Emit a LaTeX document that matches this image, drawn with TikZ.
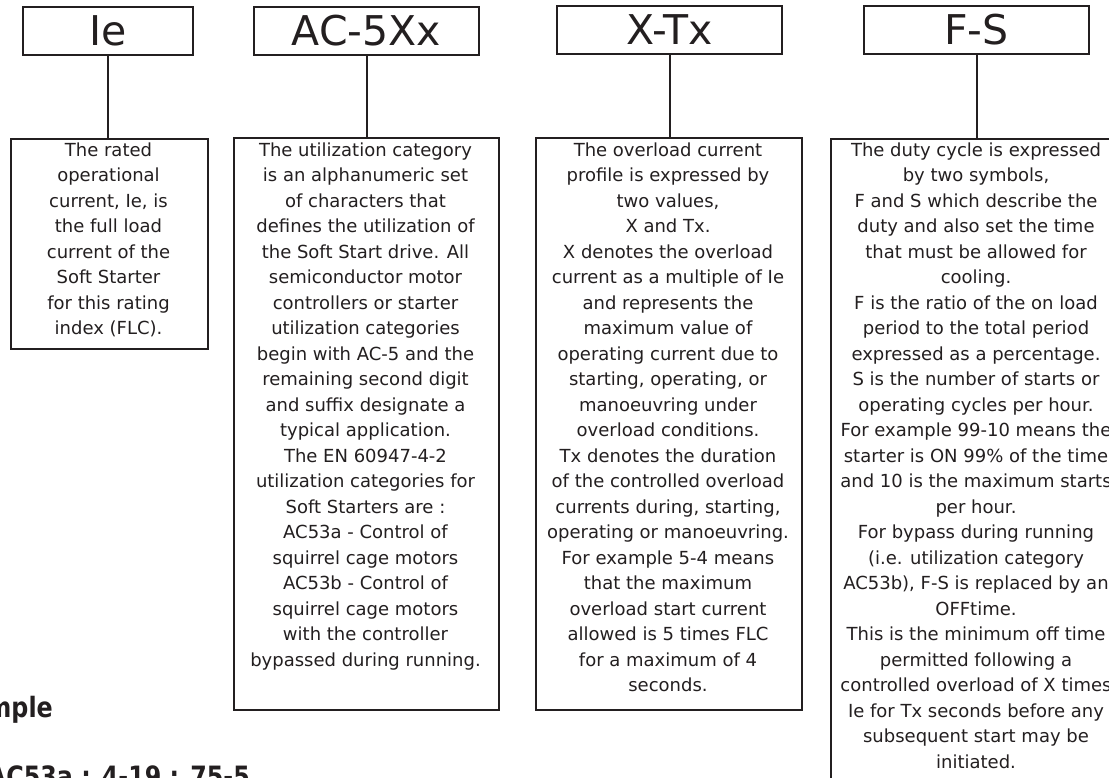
\documentclass[tikz,border=0pt]{standalone}
\usepackage{fontspec}
\usepackage{graphicx}
\setmainfont{DejaVu Sans}
\definecolor{ink}{RGB}{35,31,32}
\begin{document}
\begin{tikzpicture}[x=1pt,y=-1pt,
  titlebox/.style={draw=ink, line width=2.2pt, minimum width=225pt, minimum height=48pt, inner sep=0pt,
    text=ink, font=\fontsize{41}{41}\selectfont},
  descbox/.style={draw=ink, line width=2.2pt, inner sep=0pt, anchor=north west},
  bodytext/.style={font=\fontsize{18}{25.5}\selectfont, text=ink, align=center, inner sep=0pt, anchor=north},
  boldtext/.style={font=\fontsize{28}{28}\selectfont\bfseries, text=ink, inner sep=0pt, anchor=base east},
  link/.style={draw=ink, line width=2pt}]
\useasboundingbox (0,0) rectangle (1109,778);
\clip (0,0) rectangle (1109,778);
\fill[white] (0,0) rectangle (1109,778);

% title boxes
\node[titlebox, minimum width=170pt] (ieT) at (108,31) {Ie};
\node[titlebox] (acT) at (366.5,31) {AC-5Xx};
\node[titlebox] (xtT) at (669.5,30) {X-Tx};
\node[titlebox] (fsT) at (976.5,30) {F-S};

% description boxes
\node[descbox, minimum width=197pt, minimum height=210pt] (ieD) at (10,138) {};
\node[descbox, minimum width=265pt, minimum height=572pt] (acD) at (233,137) {};
\node[descbox, minimum width=266pt, minimum height=572pt] (xtD) at (535,137) {};
\node[descbox, minimum width=290pt, minimum height=680pt] (fsD) at (830,138) {};

% connectors
\draw[link] (ieT.south) -- (ieT.south |- ieD.north);
\draw[link] (acT.south) -- (acT.south |- acD.north);
\draw[link] (xtT.south) -- (xtT.south |- xtD.north);
\draw[link] (fsT.south) -- (fsT.south |- fsD.north);

% texts
\node[bodytext] (ieX) at (108.5,142.3) {The rated\\operational\\current, Ie, is\\the full load\\current of the\\Soft Starter\\for this rating\\index (FLC).};
\node[bodytext] (acX) at (365.5,142.3) {The utilization category\\is an alphanumeric set\\of characters that\\defines the utilization of\\the Soft Start drive. All\\semiconductor motor\\controllers or starter\\utilization categories\\begin with AC-5 and the\\remaining second digit\\and suffix designate a\\typical application.\\The EN 60947-4-2\\utilization categories for\\Soft Starters are :\\AC53a - Control of\\squirrel cage motors\\AC53b - Control of\\squirrel cage motors\\with the controller\\bypassed during running.};
\node[bodytext] (xtX) at (668,142.3) {The overload current\\profile is expressed by\\two values,\\X and Tx.\\X denotes the overload\\current as a multiple of Ie\\and represents the\\maximum value of\\operating current due to\\starting, operating, or\\manoeuvring under\\overload conditions.\\Tx denotes the duration\\of the controlled overload\\currents during, starting,\\operating or manoeuvring.\\For example 5-4 means\\that the maximum\\overload start current\\allowed is 5 times FLC\\for a maximum of 4\\seconds.};
\node[bodytext] (fsX) at (976,142.3) {The duty cycle is expressed\\by two symbols,\\F and S which describe the\\duty and also set the time\\that must be allowed for\\cooling.\\F is the ratio of the on load\\period to the total period\\expressed as a percentage.\\S is the number of starts or\\operating cycles per hour.\\For example 99-10 means the\\starter is ON 99\% of the time\\and 10 is the maximum starts\\per hour.\\For bypass during running\\(i.e. utilization category\\AC53b), F-S is replaced by an\\OFFtime.\\This is the minimum off time\\permitted following a\\controlled overload of X times\\Ie for Tx seconds before any\\subsequent start may be\\initiated.};

% cut-off example text
\node[boldtext] (exH) at (53,717) {\scalebox{0.85}[1]{Example}};
\node[boldtext] (exL) at (250,786) {\scalebox{0.85}[1]{AC53a : 4-19 : 75-5}};
\end{tikzpicture}
\end{document}
